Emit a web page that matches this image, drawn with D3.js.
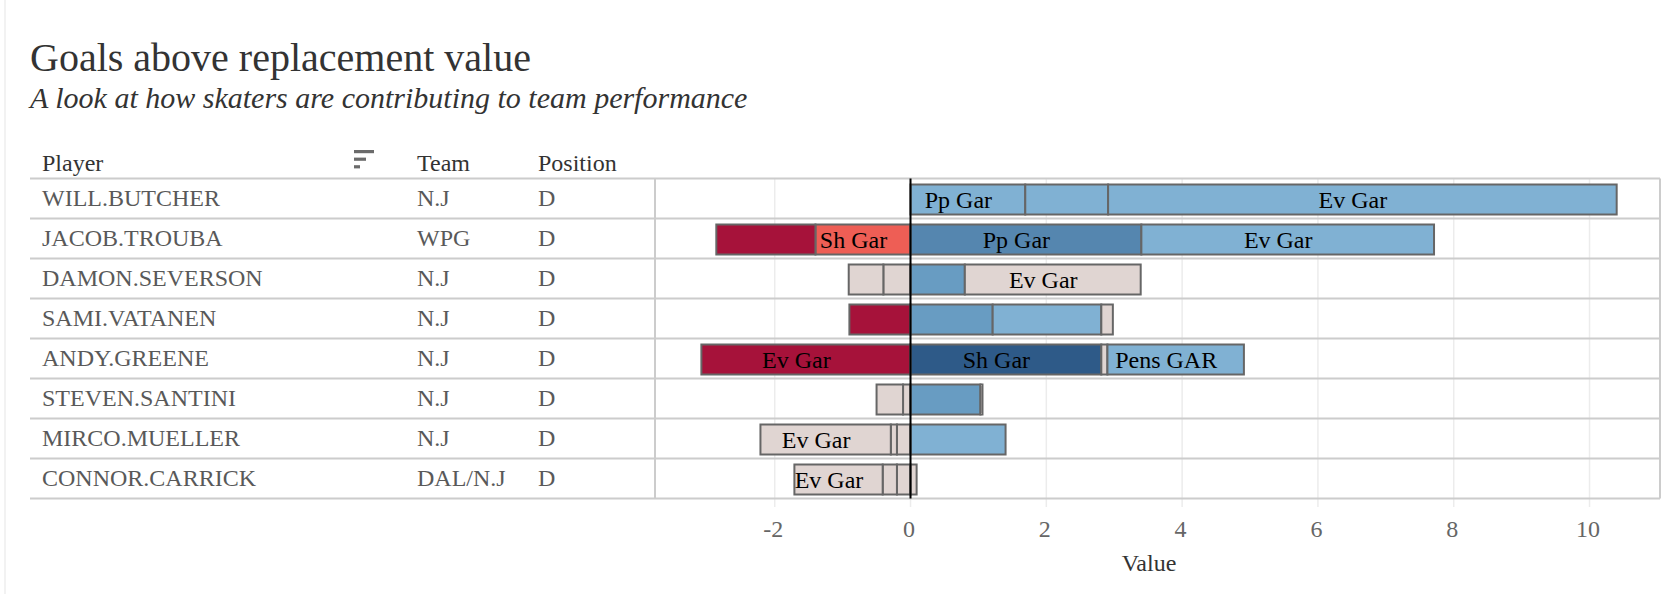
<!DOCTYPE html>
<html>
<head>
<meta charset="utf-8">
<script src="https://cdn.jsdelivr.net/npm/d3@7"></script>
<style>
  html, body { margin: 0; padding: 0; background: #fff; }
  svg { display: block; font-family: "Liberation Serif", "Times New Roman", serif; }
</style>
</head>
<body>
<svg id="chart" width="1674" height="594"></svg>
<script>
// ---------------- data ----------------
const players = ["WILL.BUTCHER", "JACOB.TROUBA", "DAMON.SEVERSON", "SAMI.VATANEN",
                 "ANDY.GREENE", "STEVEN.SANTINI", "MIRCO.MUELLER", "CONNOR.CARRICK"];
const teams = ["N.J", "WPG", "N.J", "N.J", "N.J", "N.J", "N.J", "DAL/N.J"];
const positions = ["D", "D", "D", "D", "D", "D", "D", "D"];

// stacked GAR components per player, in stacking order outward from zero
const segValues = [
  [1.69, 1.22, 7.49],
  [-1.40, -1.46, 3.40, 4.31],
  [-0.40, -0.51, 0.80, 2.59],
  [-0.90, 1.21, 1.60, 0.17],
  [-3.08, 2.81, 0.09, 2.01],
  [-0.11, -0.39, 1.03, 0.03],
  [-0.20, -0.09, -1.92, 1.40],
  [-0.20, -0.21, -1.30, 0.09]
];
// colour tier of each component (-2 strong negative ... 4 strong positive)
const segTones = [
  [1, 1, 1],
  [-1, -2, 3, 1],
  [0, 0, 2, 0],
  [-2, 2, 1, 0],
  [-2, 4, 0, 1],
  [0, 0, 2, 0],
  [0, 0, 0, 1],
  [0, 0, 0, 0]
];
const segLabels = [
  ["Pp Gar", "", "Ev Gar"],
  ["Sh Gar", "", "Pp Gar", "Ev Gar"],
  ["", "", "", "Ev Gar"],
  ["", "", "", ""],
  ["Ev Gar", "Sh Gar", "", "Pens GAR"],
  ["", "", "", ""],
  ["", "", "Ev Gar", ""],
  ["", "", "Ev Gar", ""]
];
const xTicks = [-2, 0, 2, 4, 6, 8, 10];
const headers = ["Player", "Team", "Position"];
const title = "Goals above replacement value";
const subtitle = "A look at how skaters are contributing to team performance";
const xTitle = "Value";

// ---------------- layout ----------------
const svg = d3.select("#chart");
const tableLeft = 30, panelLeft = 655, panelRight = 1660;
const plotTop = 178.5, rowH = 40;
const plotBottom = plotTop + rowH * players.length;
const colX = [42, 417, 538];
const barH = 30;

const x = d3.scaleLinear().domain([-3.763, 11.038]).range([panelLeft, panelRight]);
const y = d3.scaleBand().domain(players).range([plotTop, plotBottom]).padding(0);

const toneColor = d3.scaleOrdinal()
  .domain([-2, -1, 0, 1, 2, 3, 4])
  .range(["#a6123a", "#ee5e55", "#e0d5d2", "#80b1d3", "#689cc2", "#5586af", "#2e5a88"]);

// faint page edge
svg.append("line").attr("x1", 5).attr("x2", 5).attr("y1", 0).attr("y2", 594)
  .attr("stroke", "#eeeeee").attr("stroke-width", 1.5);

// title
svg.append("text").attr("x", 30).attr("y", 71).text(title)
  .attr("font-size", 40).attr("fill", "#333");
svg.append("text").attr("x", 30).attr("y", 108).text(subtitle)
  .attr("font-size", 30).attr("font-style", "italic").attr("fill", "#333");

// headers
svg.selectAll("text.hdr").data(headers).join("text").attr("class", "hdr")
  .attr("x", (d, i) => colX[i]).attr("y", 171)
  .attr("font-size", 24).attr("fill", "#333").text(d => d);

// sort icon
const icon = svg.append("g").attr("fill", "#6b6b6b");
[20, 12, 6].forEach((w, i) => {
  icon.append("rect").attr("x", 354).attr("y", 150 + i * 7.6).attr("width", w).attr("height", 3.2);
});

// grid lines (vertical)
svg.append("g").selectAll("line").data(xTicks).join("line")
  .attr("x1", d => x(d)).attr("x2", d => x(d))
  .attr("y1", plotTop).attr("y2", plotBottom + 8.5)
  .attr("stroke", "#ececec").attr("stroke-width", 1.5);

// row text
const rows = svg.append("g");
players.forEach((p, i) => {
  const cy = y(p) + rowH / 2;
  [p, teams[i], positions[i]].forEach((t, j) => {
    rows.append("text").attr("x", colX[j]).attr("y", cy + 7.5)
      .attr("font-size", 24).attr("fill", "#595959").text(t);
  });
});

// row separators
const seps = d3.range(players.length + 1).map(i => plotTop + i * rowH);
svg.append("g").selectAll("line").data(seps).join("line")
  .attr("x1", tableLeft).attr("x2", panelRight)
  .attr("y1", d => d).attr("y2", d => d)
  .attr("stroke", "#cccccc").attr("stroke-width", 2);

// panel vertical borders
[panelLeft, panelRight].forEach(px => {
  svg.append("line").attr("x1", px).attr("x2", px).attr("y1", plotTop).attr("y2", plotBottom)
    .attr("stroke", "#cccccc").attr("stroke-width", 2);
});

// stacked segments
const segs = [];
players.forEach((p, i) => {
  let pos = 0, neg = 0;
  segValues[i].forEach((v, k) => {
    let a, b;
    if (v >= 0) { a = pos; b = pos + v; pos = b; }
    else { a = neg; b = neg + v; neg = b; }
    segs.push({ player: p, x0: Math.min(a, b), x1: Math.max(a, b),
                tone: segTones[i][k], label: segLabels[i][k] });
  });
});

const barG = svg.append("g");
barG.selectAll("rect").data(segs).join("rect")
  .attr("x", d => x(d.x0))
  .attr("width", d => x(d.x1) - x(d.x0))
  .attr("y", d => y(d.player) + 6)
  .attr("height", barH)
  .attr("fill", d => toneColor(d.tone))
  .attr("stroke", "#666666").attr("stroke-width", 2);

barG.selectAll("text").data(segs.filter(d => d.label)).join("text")
  .attr("x", d => (x(d.x0) + x(d.x1)) / 2 - 9.5)
  .attr("y", d => y(d.player) + 6 + barH / 2 + 8)
  .attr("text-anchor", "middle").attr("font-size", 24).attr("fill", "#000")
  .text(d => d.label);

// zero line
svg.append("line").attr("x1", x(0)).attr("x2", x(0)).attr("y1", plotTop).attr("y2", plotBottom)
  .attr("stroke", "#000").attr("stroke-width", 2);

// x axis
const axis = d3.axisBottom(x).tickValues(xTicks).tickSize(0).tickPadding(0)
  .tickFormat(d => String(d));
const axG = svg.append("g").attr("transform", `translate(0,${plotBottom})`).call(axis);
axG.select(".domain").remove();
axG.selectAll("text").attr("y", 38).attr("dy", 0).attr("dx", -2)
  .attr("font-size", 24).attr("fill", "#666")
  .attr("font-family", "Liberation Serif, Times New Roman, serif");

svg.append("text").attr("x", 1149).attr("y", 571).attr("text-anchor", "middle")
  .attr("font-size", 24).attr("fill", "#333").text(xTitle);
</script>
</body>
</html>
